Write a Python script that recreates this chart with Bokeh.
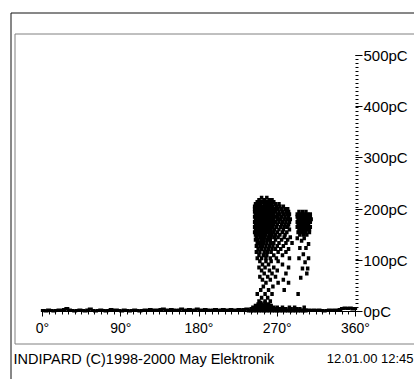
from bokeh.plotting import figure
from bokeh.models import FixedTicker, Label, Range1d, LinearAxis
from bokeh.embed import file_html
from bokeh.resources import INLINE

# ---------------- data ----------------
x_ticks = [0, 90, 180, 270, 360]
x_tick_labels = ["0°", "90°", "180°", "270°", "360°"]
y_ticks = [0, 100, 200, 300, 400, 500]
y_tick_labels = ["0pC", "100pC", "200pC", "300pC", "400pC", "500pC"]
footer_left = "INDIPARD (C)1998-2000 May Elektronik"
footer_right = "12.01.00 12:45"

# baseline noise (phase deg, charge pC)
baseline_deg = [1, 4, 7, 10, 13, 16, 19, 22, 25, 28, 31, 34, 37, 40, 43, 46, 49, 52, 55, 58,
                61, 64, 67, 70, 73, 76, 79, 82, 85, 88, 91, 94, 97, 100, 103, 106, 109, 112,
                115, 118, 121, 124, 127, 130, 133, 136, 139, 142, 145, 148, 151, 154, 157, 160,
                163, 166, 169, 172, 175, 178, 181, 184, 187, 190, 193, 196, 199, 202, 205, 208,
                211, 214, 217, 220, 223, 226, 229, 232, 235,
                306, 309, 312, 315, 318, 321, 324, 327, 330, 333, 336, 339, 342, 345, 348, 351,
                354, 357, 359]
baseline_pc = [2, 1, 3, 2, 1, 2, 3, 2, 4, 6, 3, 2, 1, 2, 3, 2, 1, 3, 5, 2,
               1, 2, 3, 2, 1, 2, 4, 2, 3, 2, 1, 3, 2, 1, 2, 3, 2, 1,
               2, 3, 2, 4, 2, 3, 2, 4, 5, 3, 2, 4, 3, 2, 3, 5,
               2, 3, 4, 2, 3, 5, 3, 2, 4, 3, 2, 3, 4, 2, 3, 4,
               2, 3, 4, 2, 3, 4, 3, 4, 5,
               3, 2, 3, 2, 3, 2, 1, 2, 3, 2, 3, 2, 4, 6, 7, 6,
               7, 5, 6]

# main pulse cluster near 244-285 deg: (charge pC, [phase deg ...])
main_rows = [
    (222, [252, 258]),
    (218, [249, 255, 261, 264]),
    (214, [247, 251, 254, 258, 262, 266]),
    (210, [245, 248, 251, 255, 258, 261, 264, 268, 272]),
    (205, [244, 247, 250, 253, 256, 259, 262, 265, 269, 273, 277]),
    (200, [244, 247, 250, 253, 256, 259, 262, 265, 268, 271, 275, 279, 282]),
    (195, [244, 247, 250, 253, 256, 259, 262, 265, 268, 272, 276, 280, 283]),
    (190, [245, 248, 251, 254, 257, 260, 263, 266, 270, 273, 277, 281, 284]),
    (185, [244, 247, 250, 253, 256, 259, 262, 265, 268, 271, 275, 279, 283]),
    (180, [245, 248, 251, 254, 257, 260, 263, 266, 270, 274, 278, 282, 285]),
    (175, [244, 247, 250, 253, 256, 259, 262, 265, 268, 272, 276, 280, 284]),
    (170, [245, 248, 251, 254, 257, 260, 263, 266, 270, 275, 279, 283]),
    (165, [244, 247, 250, 253, 256, 259, 262, 265, 269, 274, 278, 282]),
    (160, [245, 248, 251, 254, 257, 260, 263, 267, 272, 277, 284]),
    (155, [244, 247, 250, 253, 256, 259, 262, 266, 270, 276, 281]),
    (150, [245, 248, 251, 254, 257, 261, 264, 268, 273, 279]),
    (145, [246, 250, 253, 256, 260, 263, 267, 271, 278, 285]),
    (140, [245, 248, 252, 255, 259, 262, 268, 275, 282]),
    (134, [247, 251, 254, 258, 262, 266, 272, 280, 287]),
    (128, [246, 250, 253, 257, 261, 265, 270, 277]),
    (122, [248, 252, 256, 260, 264, 268, 274, 283]),
    (116, [246, 250, 255, 259, 263, 271, 280]),
    (110, [249, 254, 258, 266, 276]),
    (104, [247, 252, 257, 262, 269, 284]),
    (98, [250, 257, 263, 271]),
    (92, [253, 260, 276]),
    (86, [249, 256, 266, 283]),
    (80, [252, 261, 270]),
    (74, [255, 264, 280]),
    (68, [250, 259, 268]),
    (62, [253, 262, 277]),
    (56, [257, 271, 283]),
    (49, [254, 265]),
    (42, [251, 260, 278]),
    (34, [247, 256, 264, 294]),
    (27, [252, 259]),
    (20, [249, 256, 262]),
]

# second cluster near 293-308 deg
second_rows = [
    (195, [295, 299, 303]),
    (190, [293, 296, 299, 302, 305, 308]),
    (185, [293, 296, 299, 302, 305, 308]),
    (180, [294, 297, 300, 303, 306, 309]),
    (175, [293, 296, 299, 302, 305, 308]),
    (170, [294, 297, 300, 303, 306]),
    (165, [293, 296, 299, 302, 305, 308]),
    (160, [295, 298, 301, 304, 307]),
    (155, [294, 297, 300, 303, 307]),
    (150, [296, 300, 304]),
    (143, [293, 301]), (138, [298]), (132, [306]), (124, [296, 303]), (112, [300]),
    (104, [295, 306]), (96, [302]), (84, [299, 305]), (74, [304]), (66, [297]),
]

# low-charge mound near 238-305 deg
mound_rows = [
    (17, [251, 256]),
    (14, [248, 252, 256, 260]),
    (11, [245, 248, 251, 254, 257, 260, 263]),
    (8, [242, 245, 248, 251, 254, 257, 260, 263, 266, 270, 276, 284, 290, 301]),
    (5, [240, 243, 246, 249, 252, 255, 258, 261, 264, 267, 270, 273, 277, 280, 286, 292, 296]),
    (2, [237, 240, 243, 246, 249, 252, 255, 258, 261, 264, 267, 270, 273, 276, 279, 282, 285,
         288, 291, 294, 297, 300, 303]),
]

phase_deg = []
charge_pc = []
for rows in (main_rows, second_rows, mound_rows):
    for pc, degs in rows:
        for d in degs:
            phase_deg.append(d)
            charge_pc.append(pc)

# ---------------- layout (pixel geometry of the window) ----------------
W, H = 414, 379                   # canvas kept slightly inside the 418x383 window
X0_PX, X360_PX = 42, 355          # pixel columns of 0 deg and 360 deg
Y0_PX, Y500_PX = 311, 55          # pixel rows of 0 pC and 500 pC
DEG_PER_PX = 360 / (X360_PX - X0_PX)
PC_PER_PX = 500 / (Y0_PX - Y500_PX)


def px_x(px):
    return (px - X0_PX) * DEG_PER_PX


def px_y(py):
    return (Y0_PX - py) * PC_PER_PX


FONT = "Liberation Sans"

p = figure(
    output_backend="svg", toolbar_location=None,
    frame_width=W, frame_height=H,
    min_border=0, min_border_left=0, min_border_right=0, min_border_top=0, min_border_bottom=0,
    x_range=Range1d(px_x(0), px_x(W)), y_range=Range1d(px_y(H), px_y(0)),
    x_axis_location=None, y_axis_location=None,
)
p.background_fill_color = "white"
p.border_fill_color = "white"
p.outline_line_color = None
p.xgrid.visible = False
p.ygrid.visible = False

# window frames (decoration, drawn as plain line segments)
outer_x0 = [px_x(10.5), px_x(10.5)]
outer_y0 = [px_y(12.5), px_y(12.5)]
outer_x1 = [px_x(10.5), px_x(W + 10)]
outer_y1 = [px_y(H + 10), px_y(12.5)]
p.segment(outer_x0, outer_y0, outer_x1, outer_y1, line_color="#111111", line_width=1)
inner_x0 = [px_x(14.5), px_x(14.5), px_x(14.5)]
inner_y0 = [px_y(33.5), px_y(33.5), px_y(343.5)]
inner_x1 = [px_x(14.5), px_x(W + 10), px_x(W + 10)]
inner_y1 = [px_y(343.5), px_y(33.5), px_y(343.5)]
p.segment(inner_x0, inner_y0, inner_x1, inner_y1, line_color="#808080", line_width=1)

xaxis = LinearAxis(
    fixed_location=0, bounds=(0, 360),
    ticker=FixedTicker(ticks=x_ticks, minor_ticks=[i * 7.5 for i in range(49)]),
    major_label_overrides={t: l for t, l in zip(x_ticks, x_tick_labels)},
)
xaxis.axis_line_color = "black"
xaxis.major_tick_out = 5
xaxis.major_tick_in = 2
xaxis.minor_tick_out = 3
xaxis.minor_tick_in = 0
xaxis.major_tick_line_color = "black"
xaxis.minor_tick_line_color = "black"
xaxis.major_label_standoff = 3
xaxis.major_label_text_font = FONT
xaxis.major_label_text_font_size = "14px"
xaxis.major_label_text_color = "black"
p.add_layout(xaxis, "below")

yaxis = LinearAxis(
    fixed_location=360, bounds=(0, 500),
    ticker=FixedTicker(ticks=y_ticks, minor_ticks=[i * 500 / 64 for i in range(65)]),
    major_label_overrides={t: l for t, l in zip(y_ticks, y_tick_labels)},
)
yaxis.axis_line_color = None
yaxis.major_tick_out = 7
yaxis.major_tick_in = 0
yaxis.minor_tick_out = 3
yaxis.minor_tick_in = 0
yaxis.major_tick_line_color = "black"
yaxis.minor_tick_line_color = "black"
yaxis.major_label_standoff = 1
yaxis.major_label_text_font = FONT
yaxis.major_label_text_font_size = "15px"
yaxis.major_label_text_color = "black"
p.add_layout(yaxis, "right")

p.rect(baseline_deg, baseline_pc, width=5, height=3, width_units="screen", height_units="screen",
       fill_color="black", line_color=None)
p.rect(phase_deg, charge_pc, width=3.5, height=4, width_units="screen", height_units="screen",
       fill_color="black", line_color=None)

p.add_layout(Label(x=px_x(13), y=px_y(358), text=footer_left, text_baseline="middle",
                   text_align="left", text_font=FONT, text_font_size="14.5px", text_color="black"))
p.add_layout(Label(x=px_x(413), y=px_y(358), text=footer_right, text_baseline="middle",
                   text_align="right", text_font=FONT, text_font_size="13px", text_color="black"))

open("out.html", "w").write(file_html(p, INLINE))
